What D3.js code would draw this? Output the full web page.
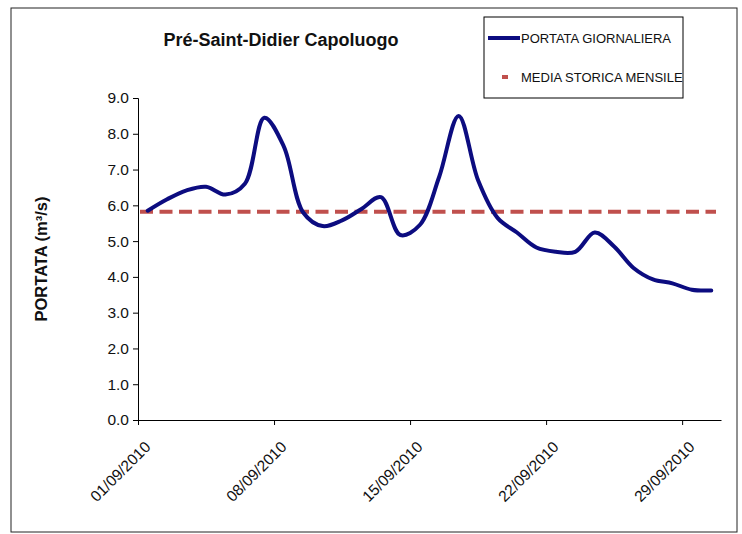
<!DOCTYPE html>
<html>
<head>
<meta charset="utf-8">
<script src="https://cdn.jsdelivr.net/npm/d3@7"></script>
<style>
  body { margin: 0; background: #fff; }
  svg { display: block; font-family: "Liberation Sans", Arial, sans-serif; }
</style>
</head>
<body>
<svg width="742" height="534"></svg>
<script>
// daily discharge, September 2010 (m3/s)
var days = d3.range(1, 31);
var portata = [5.85, 6.17, 6.42, 6.52, 6.3, 6.6, 8.45, 7.65, 5.8, 5.42,
  5.58, 5.9, 6.23, 5.17, 5.45, 6.8, 8.5, 6.7, 5.65, 5.24,
  4.82, 4.7, 4.7, 5.24, 4.85, 4.25, 3.93, 3.82, 3.64, 3.62];
var mediaStorica = 5.82;
var yTicks = [0, 1, 2, 3, 4, 5, 6, 7, 8, 9];
var xTickDays = [1, 8, 15, 22, 29];
var legendLabels = ["PORTATA GIORNALIERA", "MEDIA STORICA MENSILE"];
var title = "Pré-Saint-Didier  Capoluogo";
var yTitle = "PORTATA (m³/s)";

var svg = d3.select("svg");
var blue = "#0c0c80", red = "#c0504d";

var data = days.map(function(d, i) {
  return { date: new Date(2010, 8, d, 12), value: portata[i] };
});

var x = d3.scaleTime()
  .domain([new Date(2010, 8, 1), new Date(2010, 9, 1)])
  .range([138, 721]);
var y = d3.scaleLinear().domain([0, 9]).range([420, 98]);

// outer frame
svg.append("rect")
  .attr("x", 11).attr("y", 8).attr("width", 726).attr("height", 524)
  .attr("fill", "none").attr("stroke", "#222").attr("stroke-width", 1);

// title
svg.append("text")
  .attr("x", 281).attr("y", 46)
  .attr("text-anchor", "middle")
  .attr("font-size", 18).attr("font-weight", "bold")
  .attr("fill", "#111")
  .text(title);

// y axis
var yAxis = svg.append("g")
  .attr("transform", "translate(" + x.range()[0] + ",0)")
  .call(d3.axisLeft(y).tickValues(yTicks).tickFormat(d3.format(".1f"))
    .tickSize(5).tickPadding(4));
yAxis.selectAll("text").attr("font-size", 15.5).attr("fill", "#111");

// x axis
var xAxis = svg.append("g")
  .attr("transform", "translate(0," + y(0) + ")")
  .call(d3.axisBottom(x)
    .tickValues(xTickDays.map(function(d) { return new Date(2010, 8, d); }))
    .tickFormat(d3.timeFormat("%d/%m/%Y"))
    .tickSize(5).tickSizeOuter(0));
xAxis.selectAll("text")
  .attr("font-size", 15.5).attr("fill", "#111")
  .attr("text-anchor", "end")
  .attr("dy", null).attr("y", null)
  .attr("transform", "translate(13,28) rotate(-45)");

svg.selectAll(".domain, .tick line").attr("stroke", "#000");
svg.selectAll(".tick line").attr("stroke-width", 1);

// y axis title
svg.append("text")
  .attr("transform", "translate(47,259) rotate(-90)")
  .attr("text-anchor", "middle")
  .attr("font-size", 16.5).attr("font-weight", "bold")
  .attr("fill", "#111")
  .text(yTitle);

// historical monthly mean
svg.append("line")
  .attr("x1", x.range()[0] + 2).attr("x2", x.range()[1] - 5)
  .attr("y1", y(mediaStorica)).attr("y2", y(mediaStorica))
  .attr("stroke", red).attr("stroke-width", 4)
  .attr("stroke-dasharray", "13,6.5");

// daily discharge
var line = d3.line()
  .x(function(d) { return x(d.date); })
  .y(function(d) { return y(d.value); })
  .curve(d3.curveCatmullRom.alpha(0.5));

svg.append("path")
  .datum(data)
  .attr("d", line)
  .attr("fill", "none")
  .attr("stroke", blue)
  .attr("stroke-width", 4)
  .attr("stroke-linejoin", "round")
  .attr("stroke-linecap", "round");

// legend
var legend = svg.append("g");
legend.append("rect")
  .attr("x", 484).attr("y", 17).attr("width", 199).attr("height", 81)
  .attr("fill", "#fff").attr("stroke", "#000").attr("stroke-width", 1);
legend.append("line")
  .attr("x1", 488).attr("x2", 520).attr("y1", 38).attr("y2", 38)
  .attr("stroke", blue).attr("stroke-width", 4);
legend.append("line")
  .attr("x1", 502).attr("x2", 508).attr("y1", 77).attr("y2", 77)
  .attr("stroke", red).attr("stroke-width", 4);
legend.selectAll("text.lab")
  .data(legendLabels)
  .enter().append("text")
  .attr("class", "lab")
  .attr("x", 521)
  .attr("y", function(d, i) { return i == 0 ? 42.5 : 81.5; })
  .attr("font-size", 13).attr("fill", "#111")
  .text(function(d) { return d; });
</script>
</body>
</html>
